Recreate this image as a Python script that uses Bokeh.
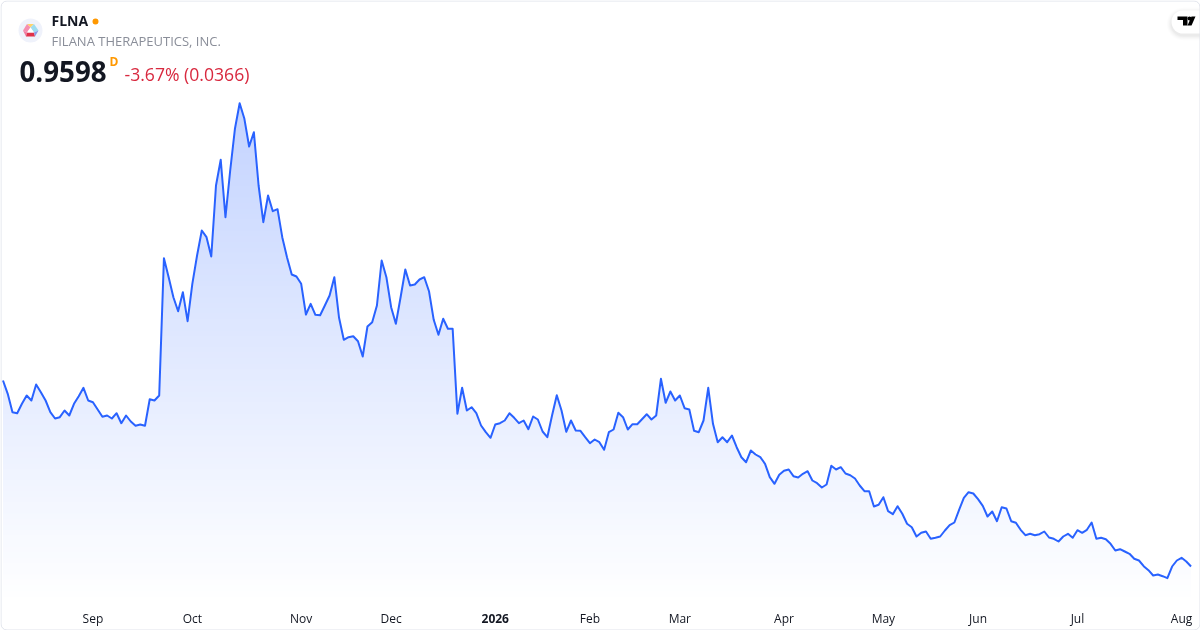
import numpy as np
from bokeh.embed import file_html
from bokeh.resources import INLINE
from bokeh.plotting import figure
from bokeh.models import Range1d, FixedTicker, Label, BoxAnnotation, PolyAnnotation

ticker = "FLNA"
company = "FILANA THERAPEUTICS, INC."
last_price = "0.9598"
change_text = "-3.67% (0.0366)"
tick_positions = [19, 40, 63, 82, 124, 143, 165, 186, 206, 227, 249]
tick_labels = ["Sep", "Oct", "Nov", "Dec", "Feb", "Mar", "Apr", "May", "Jun", "Jul", "Aug"]
year_position = 104
year_label = "2026"

prices = [
 2.82,2.687,2.503,2.493,2.587,2.67,2.62,2.78,2.703,2.62,2.503,2.44,2.453,2.52,2.47,2.587,2.663,2.747,2.62,2.603,
 2.53,2.457,2.47,2.44,2.493,2.393,2.47,2.41,2.367,2.38,2.367,2.633,2.62,2.67,4.043,3.853,3.653,3.513,3.703,3.413,
 3.787,4.07,4.32,4.253,4.06,4.77,5.027,4.453,4.92,5.337,5.593,5.437,5.16,5.303,4.77,4.403,4.67,4.513,4.533,4.253,
 4.053,3.88,3.86,3.787,3.48,3.587,3.477,3.473,3.57,3.67,3.853,3.447,3.227,3.253,3.263,3.213,3.06,3.36,3.403,3.57,
 4.02,3.853,3.553,3.387,3.653,3.93,3.77,3.78,3.83,3.853,3.713,3.427,3.277,3.437,3.337,3.337,2.487,2.747,2.52,2.553,
 2.493,2.37,2.303,2.247,2.38,2.393,2.42,2.493,2.447,2.393,2.42,2.333,2.46,2.43,2.31,2.253,2.47,2.673,2.52,2.307,
 2.42,2.32,2.317,2.253,2.193,2.23,2.203,2.127,2.303,2.33,2.497,2.453,2.33,2.383,2.383,2.433,2.483,2.43,2.47,2.837,
 2.597,2.71,2.62,2.67,2.543,2.53,2.317,2.303,2.42,2.747,2.387,2.203,2.253,2.203,2.27,2.153,2.053,2.003,2.12,2.08,
 2.053,1.987,1.853,1.787,1.877,1.917,1.93,1.863,1.85,1.887,1.913,1.82,1.793,1.75,1.78,1.967,1.93,1.953,1.89,1.873,
 1.84,1.77,1.713,1.713,1.56,1.577,1.653,1.513,1.483,1.563,1.487,1.387,1.353,1.26,1.297,1.31,1.237,1.247,1.26,1.32,
 1.373,1.40,1.527,1.647,1.703,1.69,1.633,1.567,1.46,1.51,1.413,1.553,1.54,1.413,1.397,1.327,1.273,1.287,1.273,1.283,
 1.31,1.25,1.237,1.21,1.26,1.287,1.247,1.323,1.297,1.327,1.40,1.237,1.247,1.233,1.187,1.12,1.133,1.11,1.087,1.037,
 1.02,0.963,0.923,0.87,0.88,0.863,0.843,0.96,1.02,1.047,1.01,0.9598,
]

x = np.arange(len(prices))
price = np.array(prices)
Y_TOP, Y_BOTTOM = 6.62, 0.32
FRAME_H = 630

p = figure(width=1200, height=630, frame_width=1200, frame_height=FRAME_H,
           output_backend="svg", toolbar_location=None, min_border=0,
           x_range=Range1d(-0.528, 253.0), y_range=Range1d(Y_BOTTOM, Y_TOP),
           background_fill_color="white", border_fill_color="white", outline_line_color=None)
p.styles = {"position": "fixed", "left": "0px", "top": "0px"}
p.grid.visible = False
p.yaxis.visible = False

ax = p.xaxis[0]
ax.fixed_location = 0.56
ax.ticker = FixedTicker(ticks=tick_positions)
ax.major_label_overrides = {t: s for t, s in zip(tick_positions, tick_labels)}
ax.axis_line_color = None
ax.major_tick_line_color = None
ax.minor_tick_line_color = None
ax.major_tick_out = 0
ax.major_tick_in = 0
ax.minor_tick_out = 0
ax.minor_tick_in = 0
ax.major_label_text_font = "Open Sans"
ax.major_label_text_font_size = "12px"
ax.major_label_text_color = "#131722"
ax.major_label_standoff = 3

# gradient fill: opaque bands blended onto white, then masked above the line
levels = np.linspace(0.66, price.max(), 90)
for lv in levels:
    t = (lv - levels[0]) / (levels[-1] - levels[0])
    a = 0.004 + 0.276 * t
    r, g, b = [round(255 - (255 - c) * a) for c in (41, 98, 255)]
    p.varea(x, y1=np.full(len(x), lv), y2=np.full(len(x), price.max() + 0.02),
            color=f"#{r:02x}{g:02x}{b:02x}")
mask_x = np.concatenate([[x[0] - 1], x, [x[-1] + 1]])
mask_low = np.concatenate([[price[0]], price, [price[-1]]])
p.varea(mask_x, y1=mask_low, y2=np.full(len(mask_x), Y_TOP), color="white")
p.line(x, price, line_color="#2962FF", line_width=2, line_join="round")


def Y(sy):
    return FRAME_H - sy


def text(s, sx, sy, size, color, style="normal"):
    p.add_layout(Label(x=sx, y=Y(sy), x_units="screen", y_units="screen", text=s,
                       text_font="Open Sans", text_font_size=size, text_color=color,
                       text_font_style=style, text_baseline="middle", text_align="left"))


def poly(pts, color):
    p.add_layout(PolyAnnotation(xs=[a for a, _ in pts], ys=[Y(b) for _, b in pts],
                                xs_units="screen", ys_units="screen",
                                fill_color=color, fill_alpha=1, line_color=None, level="overlay"))


def box(l, r, t, b, color, alpha=1.0, radius=0, line=None):
    p.add_layout(BoxAnnotation(left=l, right=r, top=Y(t), bottom=Y(b), left_units="screen",
                               right_units="screen", top_units="screen", bottom_units="screen",
                               fill_color=color, fill_alpha=alpha, line_color=line, line_alpha=1,
                               border_radius=radius, level="overlay"))


text(ticker, 51, 20, "14px", "#131722", "bold")
text(company, 51, 40, "13px", "#8a8e99")
text(last_price, 19, 71, "27.7px", "#131722", "bold")
text("D", 109, 61, "12px", "#ff9800", "bold")
text(change_text, 124, 73.5, "17.6px", "#d8293f")
box(92, 98, 18, 24, "#ff9800", radius=3)

# issuer logo
box(18, 42, 18, 42, "#eff2fb", radius=12)
A, B, C, D, E, F = (26.5, 23.5), (33.5, 23.5), (38, 30), (34.5, 36), (25.5, 36), (22.5, 30)
T1, T2, T3 = (30, 27), (33.5, 32), (26.5, 32)
poly([A, B, T1], "#ffd36b")
poly([A, T1, T3, F], "#f58fb0")
poly([B, C, T2, T1], "#9ddcf0")
poly([F, T3, E], "#f27aa0")
poly([T3, T2, D, E], "#e0304a")
poly([T2, C, D], "#8a9ae8")
poly([T1, T2, T3], "#ffffff")

# TradingView badge
for grow, al in [(5, 0.008), (4, 0.012), (3, 0.016), (2, 0.02), (1, 0.025)]:
    box(1171 - grow, 1215, 10 - grow + 2, 33 + grow + 2, "#000000", al, 12 + grow)
box(1171, 1215, 10, 33, "white", radius=12)
poly([(1177, 16), (1187, 16), (1187, 25), (1182.5, 25), (1182.5, 19.5), (1177, 19.5)], "#000000")
poly([(1191, 16), (1195, 16), (1191, 25), (1187, 25)], "#000000")
box(1187, 1191, 16, 20, "#000000", radius=2)

# card border
box(0.5, 1199.5, 0.5, 629.5, None, 0, 6, "#e0e3eb")

p.add_layout(Label(x=year_position, y=Y(618), x_units="data", y_units="screen", text=year_label,
                   text_font="Open Sans", text_font_size="12px", text_font_style="bold",
                   text_color="#131722", text_align="center", text_baseline="middle"))

open("out.html", "w").write(file_html(p, INLINE))
